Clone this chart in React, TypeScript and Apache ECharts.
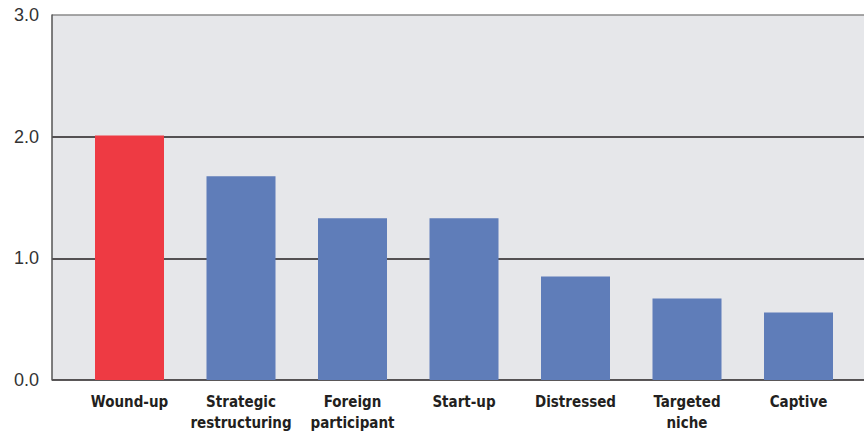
import React, { useEffect, useRef } from "react";
import * as echarts from "echarts";

const categories = [
  "Wound-up",
  "Strategic\nrestructuring",
  "Foreign\nparticipant",
  "Start-up",
  "Distressed",
  "Targeted\nniche",
  "Captive",
];
const values = [2.01, 1.675, 1.33, 1.33, 0.85, 0.67, 0.555];
const barColors = ["#EE3A43", "#5F7DB9", "#5F7DB9", "#5F7DB9", "#5F7DB9", "#5F7DB9", "#5F7DB9"];
const yTicks = ["0.0", "1.0", "2.0", "3.0"];

export default function App() {
  const ref = useRef<HTMLDivElement>(null);
  useEffect(() => {
    if (!ref.current) return;
    const chart = echarts.init(ref.current, undefined, { renderer: "svg" });
    chart.setOption({
      animation: false,
      grid: [
        { left: 52, right: 0, top: 15, bottom: 51, show: true, backgroundColor: "#E6E7EA", borderWidth: 0, outerBoundsMode: "none", containLabel: false },
        { left: 73.75, right: 9.75, top: 15, bottom: 51, show: false, outerBoundsMode: "none", containLabel: false },
      ],
      xAxis: [
        { gridIndex: 0, type: "value", min: 0, max: 1, show: false },
        {
          gridIndex: 1,
          type: "category",
          data: categories,
          axisLine: { show: false },
          axisTick: { show: false },
          axisLabel: {
            margin: 11,
            fontFamily: "DejaVu Sans Condensed",
            fontWeight: "bold",
            fontSize: 15,
            color: "#231F20",
            lineHeight: 21,
            interval: 0,
          },
        },
      ],
      yAxis: [
        {
          gridIndex: 0,
          type: "value",
          min: 0,
          max: 3,
          interval: 1,
          axisLine: { show: true, lineStyle: { color: "#555", width: 1.5 } },
          axisTick: { show: false },
          axisLabel: {
            margin: 13,
            fontFamily: "Liberation Sans",
            fontSize: 18,
            color: "#333",
            formatter: (v: number) => yTicks[Math.round(v)] ?? "",
          },
          splitLine: {
            show: true,
            lineStyle: { color: ["#231F20", "#231F20", "#231F20", "#8A8A8A"], width: 1.5 },
          },
        },
        { gridIndex: 1, type: "value", min: 0, max: 3, show: false },
      ],
      series: [
        {
          type: "bar",
          xAxisIndex: 1,
          yAxisIndex: 1,
          barWidth: 69,
          data: values.map((v, i) => ({ value: v, itemStyle: { color: barColors[i] } })),
        },
      ],
    });
    return () => chart.dispose();
  }, []);
  return <div ref={ref} style={{ width: 864, height: 431, position: "absolute", left: 0, top: 0 }} />;
}
